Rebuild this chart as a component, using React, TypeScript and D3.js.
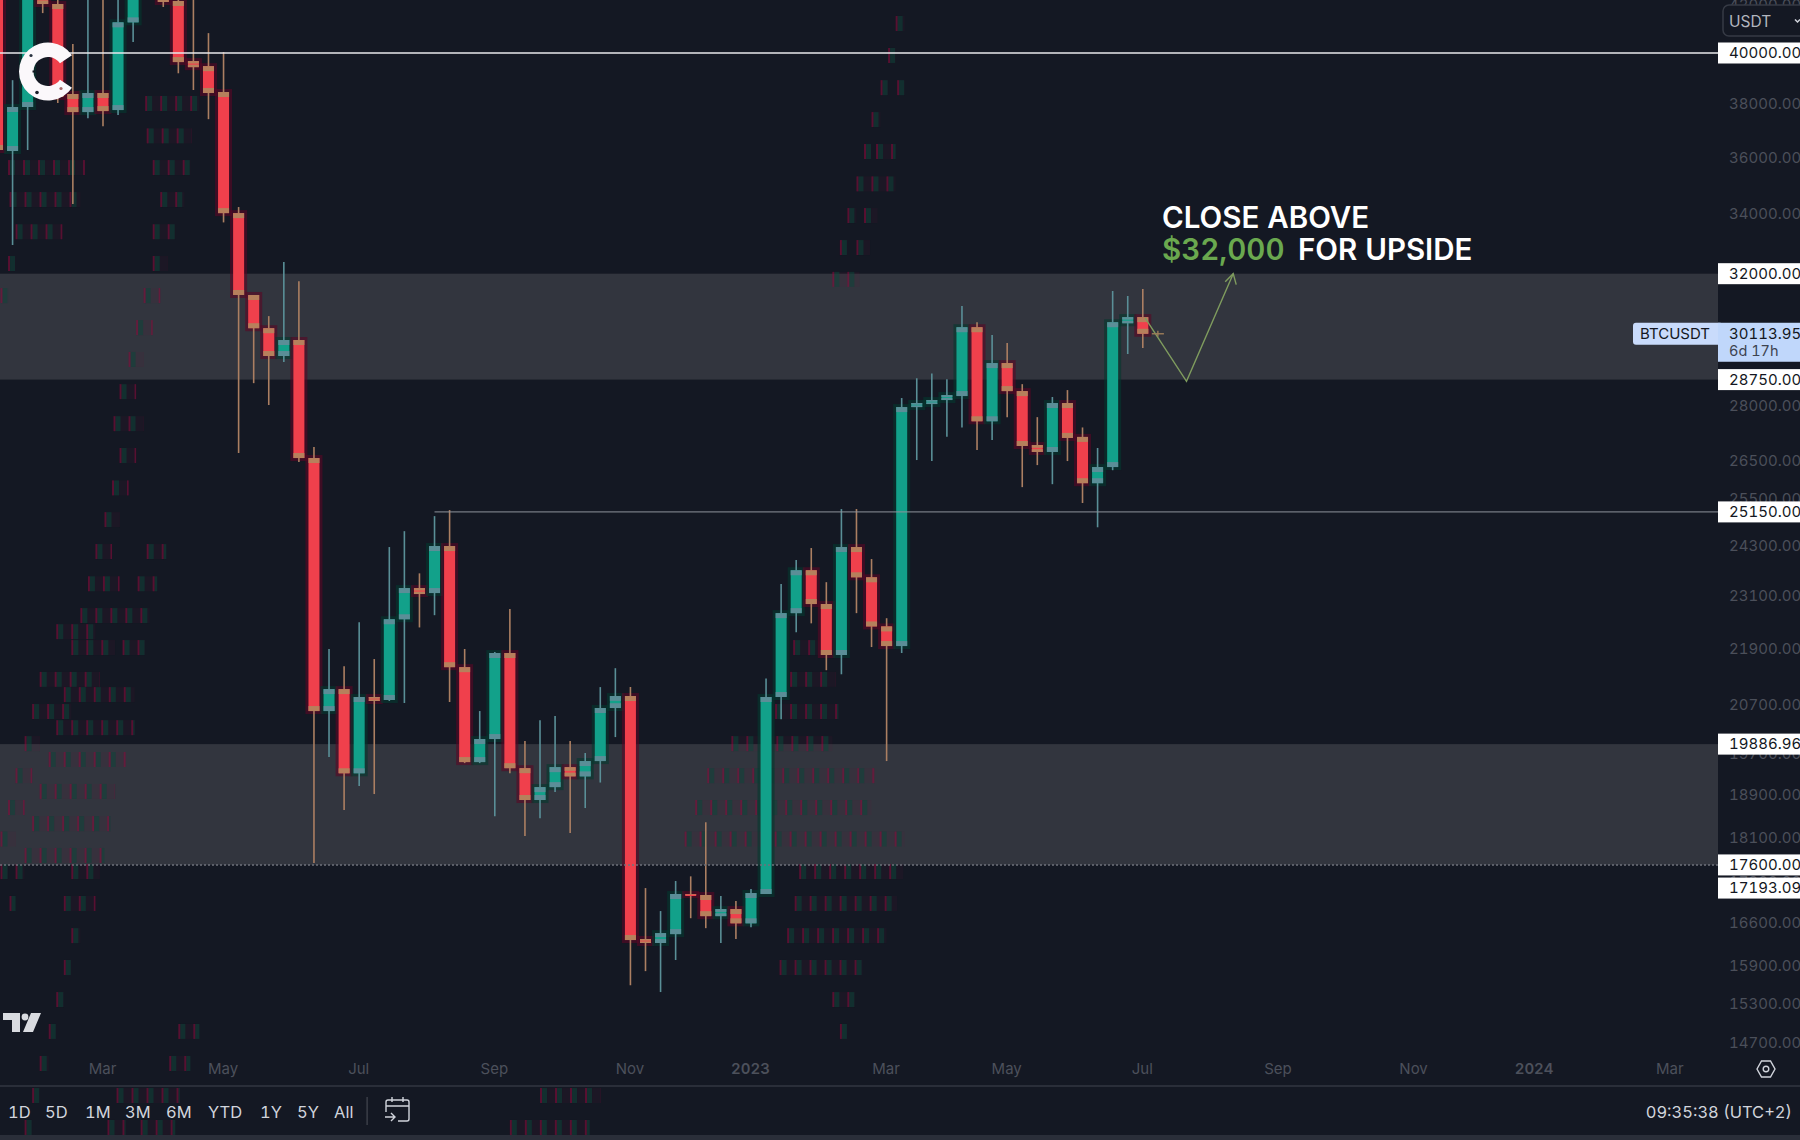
import * as React from 'react'
import * as d3 from 'd3'

// weekly BTCUSDT candles (first bar is partly off the left edge)
const opens = [43900,36226,37874,42415,42031,38376,37681,38414,37758,41259,44160,42460,42160,39675,39472,38453,34021,31318,30284,29444,29924,26558,20563,21025,19309,20857,20794,22563,23286,23169,24297,21496,19529,19989,21806,19409,18794,19041,19429,19249,19549,20626,20878,16330,16264,16411,17090,17073,16712,16832,16591,17090,20857,22703,23709,22913,21762,24272,23541,22400,21960,27962,28048,28162,28276,30314,27564,29234,28418,26910,26721,28077,27131,25891,26317,30436,30625]
const closes = [36263,37874,42629,42031,38260,37681,38414,37719,41259,43040,42710,42117,39635,39432,38414,34021,31318,30284,29444,29924,26558,20563,21025,19309,20857,20773,22563,23286,23146,24297,21496,19529,19989,21806,19409,18794,19041,19429,19249,19549,20626,20878,16313,16264,16427,17090,17073,16712,16832,16591,17107,20857,22703,23709,22913,21762,24272,23541,22400,21960,27962,28077,28162,28304,30314,27564,29234,28418,26883,26721,28077,27104,25891,26317,30467,30625,30114]
const highs = [44800,38916,43500,43500,42629,40366,43040,43040,42629,43900,44800,43040,42287,43040,40812,40041,34231,31318,30656,32379,31758,26856,21894,21518,22493,21673,24272,24665,23635,25043,25197,21894,20563,21828,22796,19949,20374,20458,19949,19709,21067,21474,21067,17193,16798,17316,17398,18376,17056,16970,17176,21253,23379,23954,24248,23425,25223,25223,23979,22587,28219,28789,28931,28761,30971,30467,30074,29834,28618,27679,28248,28447,27392,26829,31444,31286,31507]
const lows = [36000,32942,36263,41647,38028,34335,37449,37140,37565,40447,42330,41906,39188,38530,37411,33703,26694,28647,28020,29264,26450,17633,19629,18604,19060,18908,20773,20731,22377,22656,20752,19509,19509,18490,19309,18121,18452,18946,18176,18642,19129,20029,15585,15808,15477,15987,16677,16510,16264,16330,16525,17090,20395,22270,22470,21430,21342,22703,21938,19549,21806,26504,26477,27136,27392,26775,27050,27679,25788,26369,25865,26477,25377,24762,26233,29504,29684]

const priceTicks = [42000,38000,36000,34000,28000,26500,25500,24300,23100,21900,20700,19700,18900,18100,17300,16600,15900,15300,14700]
const priceLabels = [40000,32000,28750,25150,19886.96,17600,17193.09]
const zones = [[32000,28750],[19886.96,17600]]

const timeBars = [7,15,24,33,42,50,59,67,76,85,94,102,111]
const timeNames = ['Mar','May','Jul','Sep','Nov','2023','Mar','May','Jul','Sep','Nov','2024','Mar']

const ranges = ['1D','5D','1M','3M','6M','YTD','1Y','5Y','All']
const rangeStarts = [8,45,85,125,166,208,260,297,334]

const lastPrice = 30113.95
const setupBars = [76.15,78.9,82]
const setupPrices = [30600,28700,32000]

// the faint red/green blocks left behind in the screenshot: [price, from bar, to bar]
const ghostBands = [
  [38298,9.8,13.4],[37065,9.9,12.9],[35896,10.3,12.8],[35896,0.7,5.8],[34754,10.8,12.4],[34754,0.8,5.5],
  [33640,10.3,11.8],[33640,1.2,4.3],[32577,10.3,11.3],[32577,0.7,1.2],[31538,9.7,10.8],[31538,0.2,0.7],
  [30533,9.2,10.3],[29564,8.7,9.7],[28618,8.1,9.2],[27706,7.7,9.7],[26829,8.1,9.2],[25964,7.6,8.7],
  [25145,7.1,8.1],[24346,6.5,7.6],[24346,9.9,11.2],[23565,6,8.1],[23565,9.3,10.6],[22820,5.5,10.1],
  [22451,3.9,6.5],[22093,4.9,7.8],[22093,8.3,9.8],[21394,2.8,6.8],[21067,4.4,9.1],[20710,2.3,4.9],
  [20374,3.9,9.1],[20049,1.8,2.8],[19729,3.4,8.5],[19409,1.2,2.3],[19101,2.8,7.8],[18794,0.7,1.8],
  [18490,2.3,7.5],[18204,0.2,1.2],[17904,1.8,7.1],[17615,0.2,0.7],[17615,1.2,1.8],[17615,4.9,6.8],
  [17056,0.8,1.2],[17056,4.4,6.5],[16510,4.9,5.5],[15987,4.4,4.9],[15477,3.9,4.4],[14986,3.4,3.9],
  [14986,12,13.4],[14508,2.8,3.4],[14508,11.4,12.8],[14046,2.3,2.8],[14046,7.9,12.1],[14046,36,40],
  [13599,1.8,2.3],[13599,7.3,8.5],[13599,9.5,11.8],[13599,34,39.3],
  [41525,59.6,60.2],[40203,59.1,59.6],[38916,58.6,59.1],[38916,59.7,60.2],[37681,58,58.6],[36483,57.5,58],
  [36483,58.3,59.6],[35309,57,59.6],[34196,56.4,57],[34196,57.5,58.4],[33107,55.9,56.4],[33107,57,57.9],
  [32060,55.4,57.2],[22093,52.8,55.7],[21394,52.6,55.6],[20710,51.6,55.8],[20049,48.7,55.4],[19409,47.1,58.2],
  [18794,46.3,58],[18204,45.6,60.2],[17615,53.2,60.1],[17056,52.9,59.7],[16510,52.4,59],[15987,51.9,57.4],
  [15477,55.4,56.9],[14986,55.9,56.4]
]

const WIDTH = 1800
const HEIGHT = 1140
const PLOT_RIGHT = 1718
const FONT = 'Inter, "Noto Sans", sans-serif'
const RED = '#f0404c'
const GREEN = '#12a18a'
const RED_WICK = '#ab7f62'
const GREEN_WICK = '#5a8f97'
const RED_CAP = '#b6805c'
const GREEN_CAP = '#5b8e97'

export default function App() {
  const ref = React.useRef<SVGSVGElement>(null)

  React.useEffect(() => {
    document.body.style.margin = '0'
    document.body.style.background = '#141823'

    const x = d3.scaleLinear().domain([0, 76]).range([-2.5, 1142.8])
    const y = d3.scaleLog().domain([40000, 14700]).range([53, 1043])

    const svg = d3.select(ref.current)
    svg.selectAll('*').remove()
    svg.style('font-variant-numeric', 'tabular-nums')

    svg.append('rect').attr('width', WIDTH).attr('height', HEIGHT).attr('fill', '#141823')

    const plot = svg.append('g')

    // shaded zones
    plot.selectAll('.zone')
      .data(zones)
      .enter().append('rect')
      .attr('class', 'zone')
      .attr('x', 0)
      .attr('width', PLOT_RIGHT)
      .attr('y', d => y(d[0]))
      .attr('height', d => y(d[1]) - y(d[0]))
      .attr('fill', '#32353e')

    // ghost blocks
    const ghost = plot.append('g')
    ghostBands.forEach(([price, from, to]) => {
      const top = y(price)
      const x0 = x(from)
      const x1 = x(to)
      ghost.append('rect')
        .attr('x', x0).attr('y', top).attr('width', x1 - x0).attr('height', 15)
        .attr('fill', '#6b0f3a').attr('opacity', 0.1)
      d3.range(x0, x1, 15).forEach(px => {
        const w = Math.min(7, x1 - px)
        ghost.append('rect')
          .attr('x', px).attr('y', top).attr('width', Math.min(2, w)).attr('height', 15)
          .attr('fill', '#8a0b3c').attr('opacity', 0.55)
        if (w > 3) {
          ghost.append('rect')
            .attr('x', px + 2).attr('y', top).attr('width', w - 2).attr('height', 15)
            .attr('fill', '#07483a').attr('opacity', 0.5)
        }
      })
    })

    const bars = opens.map((open, i) => ({
      i, open, close: closes[i], high: highs[i], low: lows[i], up: closes[i] >= open
    }))

    // dark halo round each candle
    plot.selectAll('.halo')
      .data(bars)
      .enter().append('rect')
      .attr('class', 'halo')
      .attr('x', d => x(d.i) - 8.5)
      .attr('width', 17)
      .attr('y', d => y(Math.max(d.open, d.close)) - 3)
      .attr('height', d => Math.abs(y(d.open) - y(d.close)) + 6)
      .attr('fill', d => d.up ? '#04382f' : '#5a0624')
      .attr('opacity', 0.6)

    plot.selectAll('.wick')
      .data(bars)
      .enter().append('line')
      .attr('class', 'wick')
      .attr('x1', d => x(d.i))
      .attr('x2', d => x(d.i))
      .attr('y1', d => y(d.high))
      .attr('y2', d => y(d.low))
      .attr('stroke', d => d.up ? GREEN_WICK : RED_WICK)
      .attr('stroke-width', 1.6)

    plot.selectAll('.body')
      .data(bars)
      .enter().append('rect')
      .attr('class', 'body')
      .attr('x', d => x(d.i) - 5.5)
      .attr('width', 11)
      .attr('y', d => y(Math.max(d.open, d.close)))
      .attr('height', d => Math.max(2, Math.abs(y(d.open) - y(d.close))))
      .attr('fill', d => d.up ? GREEN : RED)

    // greyed ends of the bodies
    const capHeight = d => Math.min(5, Math.abs(y(d.open) - y(d.close)) / 2.5)
    plot.selectAll('.capTop')
      .data(bars)
      .enter().append('rect')
      .attr('class', 'capTop')
      .attr('x', d => x(d.i) - 5.5)
      .attr('width', 11)
      .attr('y', d => y(Math.max(d.open, d.close)))
      .attr('height', capHeight)
      .attr('fill', d => d.up ? GREEN_CAP : RED_CAP)
    plot.selectAll('.capBottom')
      .data(bars)
      .enter().append('rect')
      .attr('class', 'capBottom')
      .attr('x', d => x(d.i) - 5.5)
      .attr('width', 11)
      .attr('y', d => y(Math.min(d.open, d.close)) - capHeight(d))
      .attr('height', capHeight)
      .attr('fill', d => d.up ? GREEN_CAP : RED_CAP)

    // horizontal levels
    plot.append('line')
      .attr('x1', 0).attr('x2', PLOT_RIGHT)
      .attr('y1', y(40000)).attr('y2', y(40000))
      .attr('stroke', '#e8e9ec').attr('stroke-width', 1.6)
    plot.append('line')
      .attr('x1', x(29)).attr('x2', PLOT_RIGHT)
      .attr('y1', y(25150)).attr('y2', y(25150))
      .attr('stroke', '#8f939c').attr('stroke-width', 1)
    plot.append('line')
      .attr('x1', 0).attr('x2', PLOT_RIGHT)
      .attr('y1', y(17600)).attr('y2', y(17600))
      .attr('stroke', '#6f727b').attr('stroke-width', 1.5).attr('stroke-dasharray', '2 2')

    // the drawn path: down to the zone bottom, up to 32000
    const setup = setupBars.map((b, i) => [x(b), y(setupPrices[i])] as [number, number])
    const tip = setup[setup.length - 1]
    const line = d3.line()
    plot.append('path')
      .attr('d', line(setup))
      .attr('fill', 'none').attr('stroke', '#7f9c5e').attr('stroke-width', 1.4)
    plot.append('path')
      .attr('d', line([[tip[0] - 8, tip[1] + 8], tip, [tip[0] + 3, tip[1] + 11]]))
      .attr('fill', 'none').attr('stroke', '#7f9c5e').attr('stroke-width', 1.4)

    // small cross at the last price
    plot.append('path')
      .attr('d', line([[x(76.6), y(lastPrice)], [x(77.4), y(lastPrice)]]))
      .attr('stroke', '#9c7c58').attr('stroke-width', 1.4)
    plot.append('path')
      .attr('d', line([[x(77), y(lastPrice) - 3], [x(77), y(lastPrice) + 3]]))
      .attr('stroke', '#9c7c58').attr('stroke-width', 1.4)

    // annotation
    const note = svg.append('g')
      .attr('font-family', FONT)
      .attr('font-size', 29.5)
      .attr('font-weight', 600)
      .attr('fill', '#ffffff')
    note.append('text').attr('x', 1162).attr('y', 228).text('CLOSE ABOVE')
    note.append('text').attr('x', 1162).attr('y', 260).attr('fill', '#6aa84f').text('$32,000')
    note.append('text').attr('x', 1298).attr('y', 260).text('FOR UPSIDE')

    // price axis
    const yAxis = d3.axisRight(y)
      .tickValues(priceTicks)
      .tickFormat(d3.format('.2f'))
      .tickSize(0)
      .tickPadding(0)
    const yAxisG = svg.append('g')
      .attr('transform', `translate(1729, 0)`)
      .call(yAxis)
    yAxisG.select('.domain').remove()
    yAxisG.selectAll('text')
      .attr('font-family', FONT).attr('font-size', 15).attr('fill', '#4b4f5a')

    // white price tags
    const tags = svg.selectAll('.tag')
      .data(priceLabels)
      .enter().append('g')
      .attr('class', 'tag')
      .attr('transform', d => `translate(${PLOT_RIGHT}, ${y(d)})`)
    tags.append('rect')
      .attr('y', -10.5).attr('width', 82).attr('height', 21).attr('fill', '#ffffff')
    tags.append('text')
      .attr('x', 11).attr('dy', '0.35em')
      .attr('font-family', FONT).attr('font-size', 15).attr('fill', '#131722')
      .text(d => d3.format('.2f')(d))

    // symbol and last price tags
    const lastY = y(lastPrice)
    svg.append('rect')
      .attr('x', 1633).attr('y', lastY - 11).attr('width', 90).attr('height', 22).attr('rx', 3)
      .attr('fill', '#c9dbfb')
    svg.append('text')
      .attr('x', 1640).attr('y', lastY).attr('dy', '0.35em')
      .attr('font-family', FONT).attr('font-size', 15).attr('fill', '#131722')
      .text('BTCUSDT')
    svg.append('rect')
      .attr('x', PLOT_RIGHT).attr('y', lastY - 11).attr('width', 82).attr('height', 39)
      .attr('fill', '#c0d7fb')
    svg.append('text')
      .attr('x', 1729).attr('y', lastY).attr('dy', '0.35em')
      .attr('font-family', FONT).attr('font-size', 15).attr('fill', '#131722')
      .text(d3.format('.2f')(lastPrice))
    svg.append('text')
      .attr('x', 1729).attr('y', lastY + 17).attr('dy', '0.35em')
      .attr('font-family', FONT).attr('font-size', 14.5).attr('fill', '#3d4350')
      .text('6d 17h')

    // currency box
    svg.append('rect')
      .attr('x', 1723).attr('y', 5).attr('width', 90).attr('height', 31).attr('rx', 6)
      .attr('fill', '#141823').attr('stroke', '#363a45').attr('stroke-width', 1.5)
    svg.append('text')
      .attr('x', 1729).attr('y', 22).attr('dy', '0.35em')
      .attr('font-family', FONT).attr('font-size', 15.5).attr('fill', '#b2b5be')
      .text('USDT')
    svg.append('path')
      .attr('d', 'M1795 19.5l2.5 2.5 2.5-2.5')
      .attr('fill', 'none').attr('stroke', '#d1d4dc').attr('stroke-width', 1.5)

    // time axis
    const xAxis = d3.axisBottom(x)
      .tickValues(timeBars)
      .tickFormat((d, i) => timeNames[i])
      .tickSize(0)
      .tickPadding(0)
    const xAxisG = svg.append('g')
      .attr('transform', 'translate(-1, 1063.5)')
      .call(xAxis)
    xAxisG.select('.domain').remove()
    xAxisG.selectAll('text')
      .attr('font-family', FONT).attr('font-size', 15)
      .attr('fill', '#4c505b')
      .attr('font-weight', (d, i) => timeNames[i].length === 4 ? 600 : 400)

    // bottom bar
    svg.append('rect').attr('y', 1085).attr('width', WIDTH).attr('height', 2).attr('fill', '#2a2e39')
    svg.append('rect').attr('y', 1135).attr('width', WIDTH).attr('height', 5).attr('fill', '#2a2e39')

    svg.selectAll('.range')
      .data(ranges)
      .enter().append('text')
      .attr('class', 'range')
      .attr('x', (d, i) => rangeStarts[i])
      .attr('y', 1112).attr('dy', '0.35em')
      .attr('font-family', FONT).attr('font-size', 16.5).attr('fill', '#d1d4dc')
      .text(d => d)

    svg.append('rect').attr('x', 366.5).attr('y', 1097).attr('width', 1.2).attr('height', 28).attr('fill', '#434651')

    // go-to-date icon
    svg.append('path')
      .attr('d', 'M386 1112v-10q0-2 2-2h19q2 0 2 2v17q0 2-2 2h-9M386 1106h23M392 1097v5M403 1097v5M385 1117h10M391 1113l4 4-4 4')
      .attr('fill', 'none').attr('stroke', '#d1d4dc').attr('stroke-width', 1.4)

    svg.append('text')
      .attr('x', 1792).attr('y', 1112).attr('dy', '0.35em').attr('text-anchor', 'end')
      .attr('font-family', FONT).attr('font-size', 16.5).attr('fill', '#d1d4dc')
      .text('09:35:38 (UTC+2)')

    // settings icon
    svg.append('path')
      .attr('d', 'M1757 1069l4.5-8h9l4.5 8-4.5 8h-9z')
      .attr('fill', 'none').attr('stroke', '#d1d4dc').attr('stroke-width', 1.4)
    svg.append('circle')
      .attr('cx', 1766).attr('cy', 1069).attr('r', 2.8)
      .attr('fill', 'none').attr('stroke', '#d1d4dc').attr('stroke-width', 1.4)

    // TradingView mark
    svg.append('path')
      .attr('d', 'M3 1013h17v19h-8v-12h-9zM31 1013h10l-8 19h-10z')
      .attr('fill', '#d9dbe0')
    svg.append('circle').attr('cx', 25).attr('cy', 1017).attr('r', 3.4).attr('fill', '#d9dbe0')

    // site logo
    const logo = svg.append('g').attr('transform', 'translate(48, 71.5)')
    logo.append('path')
      .attr('d', d3.arc()({
        innerRadius: 14.5,
        outerRadius: 29,
        startAngle: Math.PI * 0.69,
        endAngle: Math.PI * 2.31
      }))
      .attr('fill', '#fbf8fb')
    logo.append('circle').attr('cx', -17).attr('cy', -16).attr('r', 1.6).attr('fill', '#2a3340')
    logo.append('circle').attr('cx', -11).attr('cy', 21).attr('r', 1.8).attr('fill', '#1a1f2a')
    logo.append('circle').attr('cx', 13).attr('cy', 17).attr('r', 1.6).attr('fill', '#a8686a')
    logo.append('rect').attr('x', -15.5).attr('y', -1).attr('width', 3).attr('height', 2).attr('fill', '#141823')
  }, [])

  return (
    <svg ref={ref} width={WIDTH} height={HEIGHT} style={{ position: 'fixed', left: 0, top: 0, display: 'block' }} />
  )
}
